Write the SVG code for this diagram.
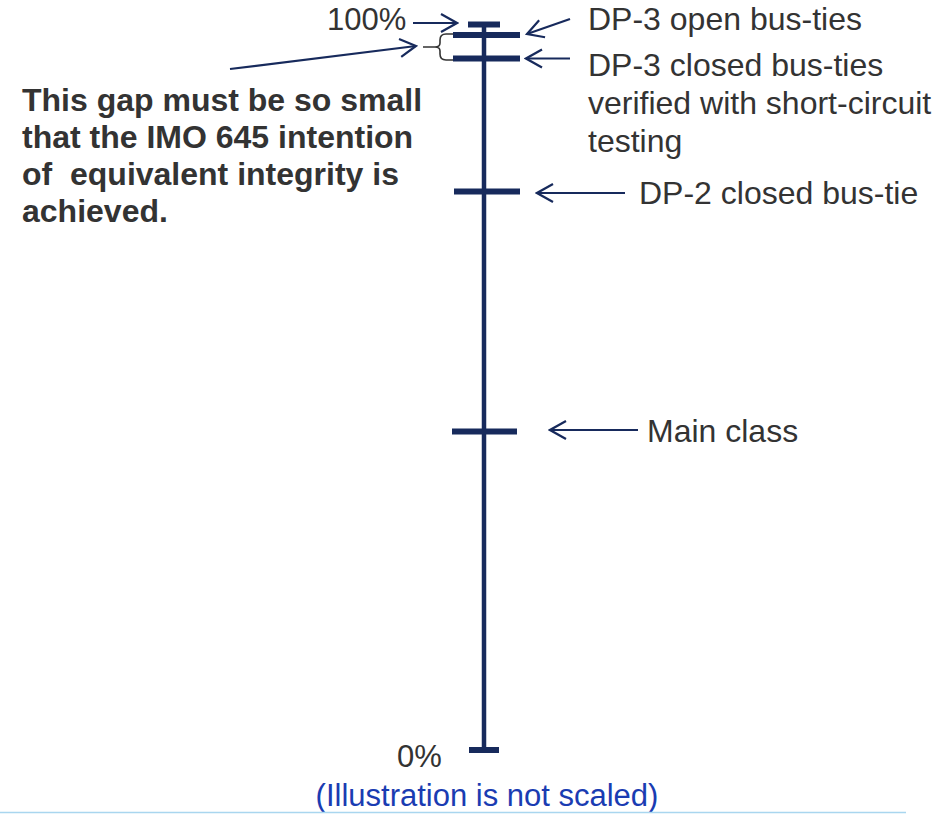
<svg xmlns="http://www.w3.org/2000/svg" width="939" height="814" viewBox="0 0 939 814">
  <style>
    .lbl { font-family: "Liberation Sans", Arial, sans-serif; font-size: 32px; fill: #333333; }
    .pct { font-size: 31px; }
    .bold { font-weight: bold; white-space: pre; }
    .note { fill: #1a3cb2; font-size: 31px; }
    .axis { stroke: #172a5c; stroke-width: 4.5; fill: none; }
    .tick { stroke: #172a5c; stroke-width: 6; fill: none; }
    .arr { stroke: #172a5c; stroke-width: 2.2; fill: none; marker-end: url(#head); }
    .brace { stroke: #333333; stroke-width: 1.6; fill: none; }
  </style>
  <defs>
    <marker id="head" markerUnits="userSpaceOnUse" viewBox="-18 -11 20 22" refX="0" refY="0" markerWidth="20" markerHeight="22" orient="auto">
      <path d="M -16 -9 L 0 0 L -16 9" fill="none" stroke="#172a5c" stroke-width="2.2"/>
    </marker>
  </defs>

  <rect width="939" height="814" fill="#ffffff"/>

  <!-- integrity scale -->
  <g id="scale">
    <line class="axis" x1="484" y1="22" x2="484" y2="750"/>
    <line class="tick" x1="468" y1="24.5" x2="500" y2="24.5"/>
    <line class="tick" x1="453" y1="35" x2="520" y2="35"/>
    <line class="tick" x1="453" y1="58.5" x2="520" y2="58.5"/>
    <line class="tick" x1="454" y1="191.5" x2="520" y2="191.5"/>
    <line class="tick" x1="452" y1="431.5" x2="517" y2="431.5"/>
    <line class="tick" x1="469" y1="750" x2="499" y2="750"/>
    <path class="brace" d="M453,34 L446,34 Q440,34 440,40 L440,43 Q440,47 435,47 L423,47 M435,47 Q440,47 440,51 L440,54 Q440,60 446,60 L453,60"/>
  </g>

  <g id="label-100">
    <text class="lbl pct" x="327" y="30">100%</text>
  </g>
  <g id="label-0">
    <text class="lbl pct" x="397" y="767">0%</text>
  </g>

  <g id="dp3-open">
    <text class="lbl" x="588" y="30">DP-3 open bus-ties</text>
  </g>
  <g id="dp3-closed">
    <text class="lbl" x="588" y="76">DP-3 closed bus-ties</text>
    <text class="lbl" x="588" y="114">verified with short-circuit</text>
    <text class="lbl" x="588" y="152">testing</text>
  </g>
  <g id="dp2-closed">
    <text class="lbl" x="639" y="204">DP-2 closed bus-tie</text>
  </g>
  <g id="main-class">
    <text class="lbl" x="647" y="442">Main class</text>
  </g>

  <g id="gap-note">
    <text class="lbl bold" x="22" y="111">This gap must be so small</text>
    <text class="lbl bold" x="22" y="148">that the IMO 645 intention</text>
    <text class="lbl bold" x="22" y="185">of  equivalent integrity is</text>
    <text class="lbl bold" x="22" y="222">achieved.</text>
  </g>

  <g id="caption">
    <text class="lbl note" x="487" y="806" text-anchor="middle">(Illustration is not scaled)</text>
    <line x1="0" y1="812.5" x2="906" y2="812.5" stroke="#a9d6ef" stroke-width="1.5"/>
  </g>

  <!-- pointer arrows -->
  <g id="connectors">
    <line class="arr" x1="413" y1="23" x2="457" y2="23"/>
    <line class="arr" x1="230" y1="69" x2="416" y2="46"/>
    <line class="arr" x1="570" y1="19" x2="527" y2="34"/>
    <line class="arr" x1="570" y1="58.5" x2="526" y2="58.5"/>
    <line class="arr" x1="625" y1="193" x2="537" y2="193"/>
    <line class="arr" x1="638" y1="430" x2="550" y2="430"/>
  </g>
</svg>
